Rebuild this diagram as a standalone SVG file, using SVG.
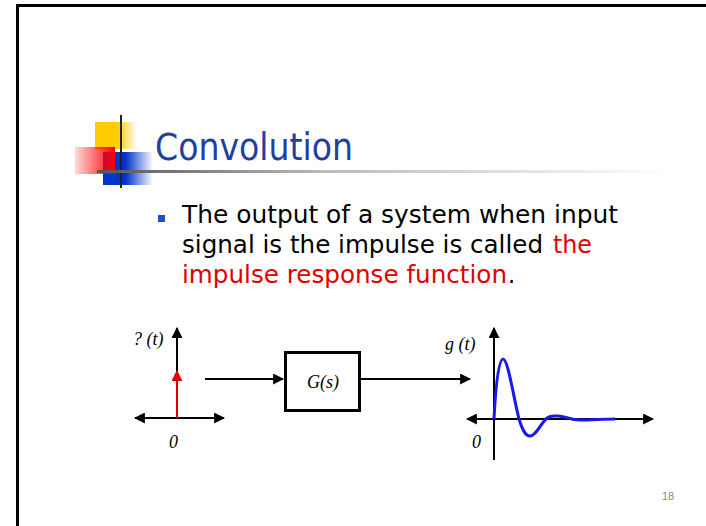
<svg xmlns="http://www.w3.org/2000/svg" width="706" height="526" viewBox="0 0 706 526">
<defs>
<linearGradient id="gy" x1="0" x2="1" y1="0" y2="0"><stop offset="0" stop-color="#FFCC00"/><stop offset="0.55" stop-color="#FFCC00"/><stop offset="1" stop-color="#FFCC00" stop-opacity="0"/></linearGradient>
<linearGradient id="gb" x1="0" x2="1" y1="0" y2="0"><stop offset="0" stop-color="#0033CC"/><stop offset="0.45" stop-color="#0033CC"/><stop offset="1" stop-color="#0033CC" stop-opacity="0"/></linearGradient>
<linearGradient id="gr" x1="0" x2="1" y1="0" y2="0"><stop offset="0" stop-color="#FF0000" stop-opacity="0.15"/><stop offset="1" stop-color="#FF0000"/></linearGradient>
<linearGradient id="gl" x1="0" x2="1" y1="0" y2="0"><stop offset="0" stop-color="#555"/><stop offset="0.4" stop-color="#BBB"/><stop offset="1" stop-color="#FFF"/></linearGradient>
<marker id="ah" viewBox="0 0 10 10" refX="9" refY="5" markerWidth="5.5" markerHeight="5.5" orient="auto-start-reverse" markerUnits="strokeWidth"><path d="M0,0 L10,5 L0,10 z" fill="#000"/></marker>
<marker id="ahr" viewBox="0 0 10 10" refX="9" refY="5" markerWidth="5.5" markerHeight="5.5" orient="auto" markerUnits="strokeWidth"><path d="M0,0 L10,5 L0,10 z" fill="#E00000"/></marker>
</defs>
<style>
.body{font-family:"DejaVu Sans Condensed","DejaVu Sans",sans-serif;font-size:25px;fill:#000}
.red{fill:#E00000}
.lab{font-family:"Liberation Serif",serif;font-style:italic;font-size:18px;fill:#000}
.ax{stroke:#000;stroke-width:2;fill:none}
</style>
<rect width="706" height="526" fill="#fff"/>
<g id="frame"><path d="M17.5,526 V5.5 H706" fill="none" stroke="#000" stroke-width="3"/></g>
<g id="logo">
<rect x="95" y="122" width="42" height="27" fill="url(#gy)"/>
<rect x="103" y="152" width="50" height="33" fill="url(#gb)"/>
<rect x="75" y="147" width="40" height="27" fill="url(#gr)"/>
<line x1="121" y1="115" x2="121" y2="188" stroke="#222" stroke-width="2"/>
<rect x="97" y="170" width="575" height="3" fill="url(#gl)"/>
</g>
<g id="title"><text x="155" y="160" font-family="DejaVu Sans Condensed, DejaVu Sans, sans-serif" font-size="37" fill="#2040A0" textLength="198" lengthAdjust="spacingAndGlyphs">Convolution</text></g>
<g id="bullet-text">
<rect x="158" y="215" width="7" height="7" fill="#1F4FD0"/>
<text class="body" x="182" y="223" textLength="436" lengthAdjust="spacingAndGlyphs">The output of a system when input</text>
<text class="body" x="182" y="253" textLength="361" lengthAdjust="spacingAndGlyphs">signal is the impulse is called</text>
<text class="body red" x="553" y="253" textLength="39" lengthAdjust="spacingAndGlyphs">the</text>
<text class="body red" x="182" y="283" textLength="325" lengthAdjust="spacingAndGlyphs">impulse response function</text>
<text class="body" x="508" y="283">.</text>
</g>
<g id="input-plot">
<text class="lab" x="133" y="345">? (t)</text>
<line class="ax" x1="177" y1="418" x2="177" y2="328" marker-end="url(#ah)"/>
<line class="ax" x1="135" y1="418" x2="224" y2="418" marker-start="url(#ah)" marker-end="url(#ah)"/>
<line x1="177" y1="418" x2="177" y2="371" stroke="#E00000" stroke-width="2" marker-end="url(#ahr)"/>
<text class="lab" x="169" y="448">0</text>
</g>
<g id="system">
<rect x="285.5" y="352.5" width="74" height="58" fill="#fff" stroke="#000" stroke-width="3"/>
<text class="lab" x="307" y="388">G(s)</text>
</g>
<g id="connectors">
<line class="ax" x1="205" y1="379" x2="283" y2="379" marker-end="url(#ah)"/>
<line class="ax" x1="361" y1="379" x2="470" y2="379" marker-end="url(#ah)"/>
</g>
<g id="output-plot">
<text class="lab" x="445" y="350">g (t)</text>
<line class="ax" x1="494" y1="460" x2="494" y2="328" marker-end="url(#ah)"/>
<line class="ax" x1="467" y1="419" x2="653" y2="419" marker-start="url(#ah)" marker-end="url(#ah)"/>
<text class="lab" x="472" y="448">0</text>
<path d="M494,419 C496,380 499,359 503,359 C508,359 513,395 519,419 C523,432 526,436 530,436 C536,436 541,423 547,418 C551,415 555,416 558,416 C565,416 570,420 580,420 C592,420 603,419 615,419" fill="none" stroke="#1A1AE6" stroke-width="3"/>
</g>
<g id="page"><text x="662" y="500" font-family="Liberation Sans, sans-serif" font-size="11" fill="#888">18</text></g>
</svg>
